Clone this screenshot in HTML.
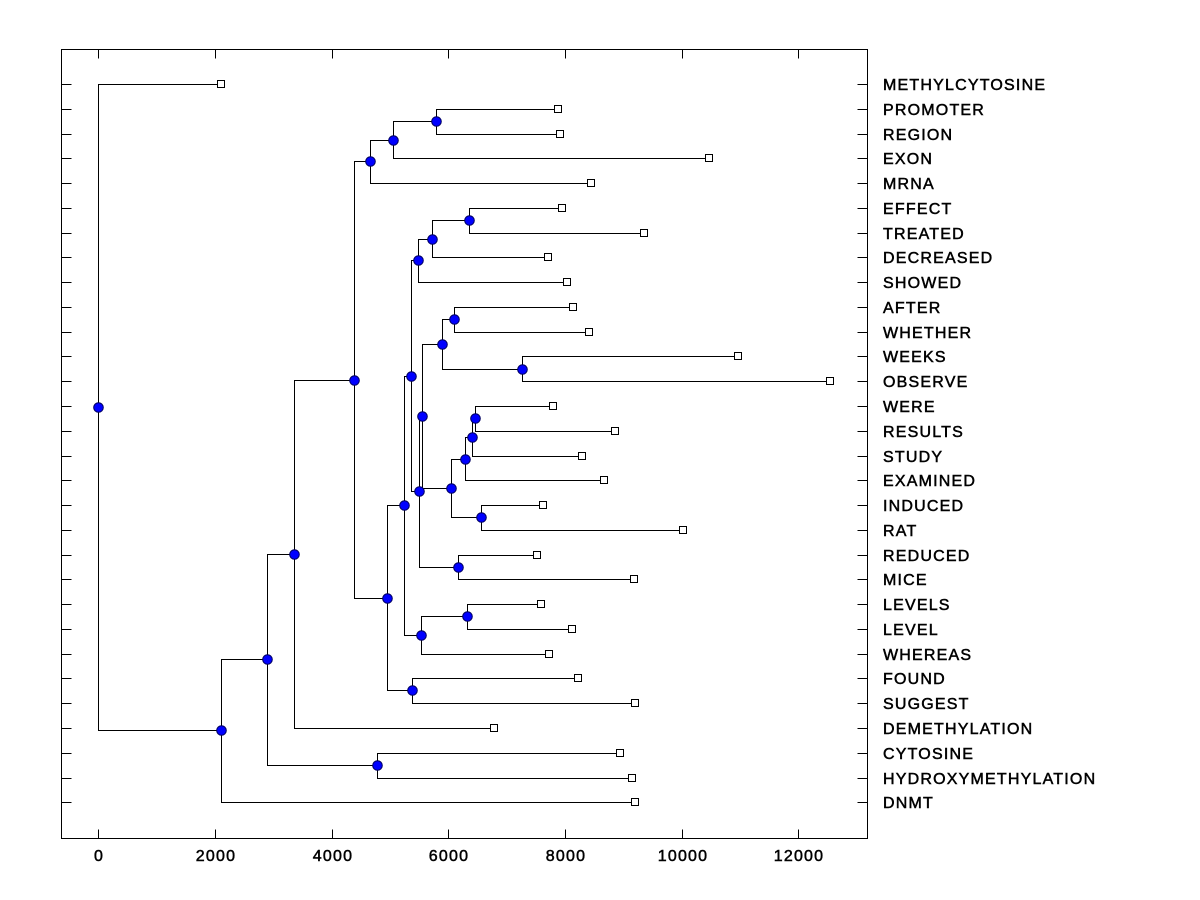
<!DOCTYPE html>
<html>
<head>
<meta charset="utf-8">
<style>
html,body{margin:0;padding:0;background:#fff;}
svg{display:block;}
text{font-family:"Liberation Sans",Arial,sans-serif;font-size:16px;fill:#000;letter-spacing:1.2px;stroke:#000;stroke-width:0.5px;}
</style>
</head>
<body>
<svg width="1200" height="900" viewBox="0 0 1200 900" xmlns="http://www.w3.org/2000/svg">
<rect x="0" y="0" width="1200" height="900" fill="#fff"/>
<g transform="translate(0.5,0.5)" shape-rendering="crispEdges" stroke="#000" stroke-width="1" fill="none">
<rect x="61" y="49" width="806" height="789"/>
<path d="M61 84H71M61 109H71M61 134H71M61 158H71M61 183H71M61 208H71M61 233H71M61 257H71M61 282H71M61 307H71M61 332H71M61 356H71M61 381H71M61 406H71M61 431H71M61 456H71M61 480H71M61 505H71M61 530H71M61 555H71M61 579H71M61 604H71M61 629H71M61 654H71M61 678H71M61 703H71M61 728H71M61 753H71M61 778H71M61 802H71"/>
<path d="M857 84H867M857 109H867M857 134H867M857 158H867M857 183H867M857 208H867M857 233H867M857 257H867M857 282H867M857 307H867M857 332H867M857 356H867M857 381H867M857 406H867M857 431H867M857 456H867M857 480H867M857 505H867M857 530H867M857 555H867M857 579H867M857 604H867M857 629H867M857 654H867M857 678H867M857 703H867M857 728H867M857 753H867M857 778H867M857 802H867"/>
<path d="M98 49V58M215 49V58M332 49V58M448 49V58M565 49V58M682 49V58M798 49V58"/>
<path d="M98 829V838M215 829V838M332 829V838M448 829V838M565 829V838M682 829V838M798 829V838"/>
<path d="M221 84H98V730H221"/>
<path d="M267 659H221V802H635"/>
<path d="M294 554H267V765H377"/>
<path d="M354 380H294V728H494"/>
<path d="M620 753H377V778H632"/>
<path d="M370 161H354V598H387"/>
<path d="M393 140H370V183H591"/>
<path d="M436 121H393V158H709"/>
<path d="M558 109H436V134H560"/>
<path d="M404 505H387V690H412"/>
<path d="M578 678H412V703H635"/>
<path d="M411 376H404V635H421"/>
<path d="M467 616H421V654H549"/>
<path d="M541 604H467V629H572"/>
<path d="M418 260H411V491H419"/>
<path d="M432 239H418V282H567"/>
<path d="M469 220H432V257H548"/>
<path d="M562 208H469V233H644"/>
<path d="M422 416H419V567H458"/>
<path d="M537 555H458V579H634"/>
<path d="M442 344H422V488H451"/>
<path d="M454 319H442V369H522"/>
<path d="M573 307H454V332H589"/>
<path d="M738 356H522V381H830"/>
<path d="M465 459H451V517H481"/>
<path d="M543 505H481V530H683"/>
<path d="M472 437H465V480H604"/>
<path d="M475 418H472V456H582"/>
<path d="M553 406H475V431H615"/>
</g>
<g transform="translate(0.5,0.5)" shape-rendering="crispEdges" stroke="#000" stroke-width="1" fill="#fff">
<rect x="217" y="80" width="7" height="7"/>
<rect x="554" y="105" width="7" height="7"/>
<rect x="556" y="130" width="7" height="7"/>
<rect x="705" y="154" width="7" height="7"/>
<rect x="587" y="179" width="7" height="7"/>
<rect x="558" y="204" width="7" height="7"/>
<rect x="640" y="229" width="7" height="7"/>
<rect x="544" y="253" width="7" height="7"/>
<rect x="563" y="278" width="7" height="7"/>
<rect x="569" y="303" width="7" height="7"/>
<rect x="585" y="328" width="7" height="7"/>
<rect x="734" y="352" width="7" height="7"/>
<rect x="826" y="377" width="7" height="7"/>
<rect x="549" y="402" width="7" height="7"/>
<rect x="611" y="427" width="7" height="7"/>
<rect x="578" y="452" width="7" height="7"/>
<rect x="600" y="476" width="7" height="7"/>
<rect x="539" y="501" width="7" height="7"/>
<rect x="679" y="526" width="7" height="7"/>
<rect x="533" y="551" width="7" height="7"/>
<rect x="630" y="575" width="7" height="7"/>
<rect x="537" y="600" width="7" height="7"/>
<rect x="568" y="625" width="7" height="7"/>
<rect x="545" y="650" width="7" height="7"/>
<rect x="574" y="674" width="7" height="7"/>
<rect x="631" y="699" width="7" height="7"/>
<rect x="490" y="724" width="7" height="7"/>
<rect x="616" y="749" width="7" height="7"/>
<rect x="628" y="774" width="7" height="7"/>
<rect x="631" y="798" width="7" height="7"/>
</g>
<g transform="translate(0.5,0.5)" fill="#0000ff" stroke="#000060" stroke-width="1">
<circle cx="98" cy="407" r="4.8"/>
<circle cx="221" cy="730" r="4.8"/>
<circle cx="267" cy="659" r="4.8"/>
<circle cx="294" cy="554" r="4.8"/>
<circle cx="377" cy="765" r="4.8"/>
<circle cx="354" cy="380" r="4.8"/>
<circle cx="370" cy="161" r="4.8"/>
<circle cx="393" cy="140" r="4.8"/>
<circle cx="436" cy="121" r="4.8"/>
<circle cx="387" cy="598" r="4.8"/>
<circle cx="412" cy="690" r="4.8"/>
<circle cx="404" cy="505" r="4.8"/>
<circle cx="421" cy="635" r="4.8"/>
<circle cx="467" cy="616" r="4.8"/>
<circle cx="411" cy="376" r="4.8"/>
<circle cx="418" cy="260" r="4.8"/>
<circle cx="432" cy="239" r="4.8"/>
<circle cx="469" cy="220" r="4.8"/>
<circle cx="419" cy="491" r="4.8"/>
<circle cx="458" cy="567" r="4.8"/>
<circle cx="422" cy="416" r="4.8"/>
<circle cx="442" cy="344" r="4.8"/>
<circle cx="454" cy="319" r="4.8"/>
<circle cx="522" cy="369" r="4.8"/>
<circle cx="451" cy="488" r="4.8"/>
<circle cx="481" cy="517" r="4.8"/>
<circle cx="465" cy="459" r="4.8"/>
<circle cx="472" cy="437" r="4.8"/>
<circle cx="475" cy="418" r="4.8"/>
</g>
<g>
<text x="883" y="90">METHYLCYTOSINE</text>
<text x="883" y="115">PROMOTER</text>
<text x="883" y="140">REGION</text>
<text x="883" y="164">EXON</text>
<text x="883" y="189">MRNA</text>
<text x="883" y="214">EFFECT</text>
<text x="883" y="239">TREATED</text>
<text x="883" y="263">DECREASED</text>
<text x="883" y="288">SHOWED</text>
<text x="883" y="313">AFTER</text>
<text x="883" y="338">WHETHER</text>
<text x="883" y="362">WEEKS</text>
<text x="883" y="387">OBSERVE</text>
<text x="883" y="412">WERE</text>
<text x="883" y="437">RESULTS</text>
<text x="883" y="462">STUDY</text>
<text x="883" y="486">EXAMINED</text>
<text x="883" y="511">INDUCED</text>
<text x="883" y="536">RAT</text>
<text x="883" y="561">REDUCED</text>
<text x="883" y="585">MICE</text>
<text x="883" y="610">LEVELS</text>
<text x="883" y="635">LEVEL</text>
<text x="883" y="660">WHEREAS</text>
<text x="883" y="684">FOUND</text>
<text x="883" y="709">SUGGEST</text>
<text x="883" y="734">DEMETHYLATION</text>
<text x="883" y="759">CYTOSINE</text>
<text x="883" y="784">HYDROXYMETHYLATION</text>
<text x="883" y="808">DNMT</text>
</g>
<g text-anchor="middle">
<text x="99" y="861">0</text>
<text x="216" y="861">2000</text>
<text x="333" y="861">4000</text>
<text x="449" y="861">6000</text>
<text x="566" y="861">8000</text>
<text x="683" y="861">10000</text>
<text x="799" y="861">12000</text>
</g>
</svg>
</body>
</html>
